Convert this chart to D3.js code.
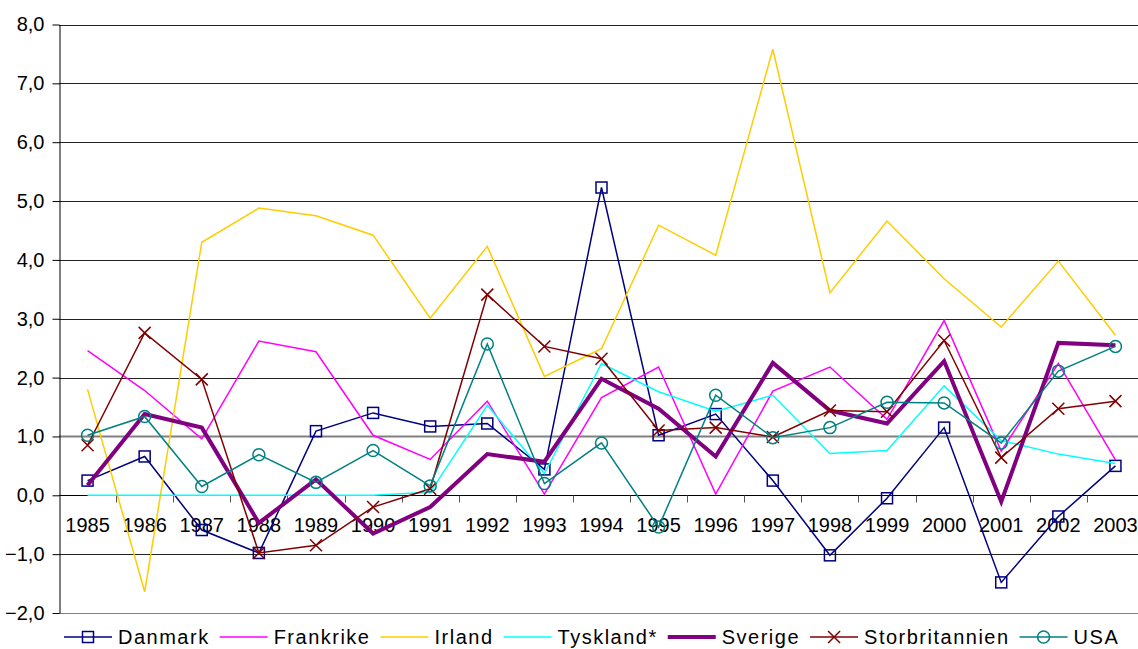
<!DOCTYPE html>
<html>
<head>
<meta charset="utf-8">
<script src="https://cdn.jsdelivr.net/npm/d3@7"></script>
<style>
  body { margin: 0; background: #fff; }
  text { font-family: "Liberation Sans", Arial, sans-serif; fill: #000; }
</style>
</head>
<body>
<script>
// Data
var years = [1985, 1986, 1987, 1988, 1989, 1990, 1991, 1992, 1993, 1994,
             1995, 1996, 1997, 1998, 1999, 2000, 2001, 2002, 2003];
var yTicks = [-2, -1, 0, 1, 2, 3, 4, 5, 6, 7, 8];

var danmark = [0.25, 0.66, -0.59, -0.98, 1.09, 1.40, 1.17, 1.22, 0.44, 5.23,
               1.02, 1.38, 0.25, -1.02, -0.05, 1.15, -1.48, -0.36, 0.50];
var frankrike = [2.46, 1.78, 0.96, 2.62, 2.44, 1.02, 0.61, 1.60, 0.02, 1.66,
                 2.18, 0.02, 1.77, 2.18, 1.29, 2.97, 0.75, 2.24, 0.60];
var irland = [1.80, -1.64, 4.30, 4.88, 4.75, 4.42, 3.01, 4.23, 2.02, 2.49,
              4.59, 4.08, 7.58, 3.44, 4.66, 3.68, 2.86, 3.98, 2.72];
var tyskland = [0, 0, 0, 0, 0, 0, 0.05, 1.53, 0.37, 2.24,
                1.76, 1.43, 1.70, 0.71, 0.76, 1.86, 0.93, 0.70, 0.54];
var sverige = [0.17, 1.38, 1.15, -0.47, 0.27, -0.65, -0.20, 0.70, 0.57, 1.98,
               1.47, 0.66, 2.25, 1.44, 1.22, 2.28, -0.11, 2.59, 2.55];
var storbritannien = [0.85, 2.76, 1.97, -0.98, -0.85, -0.20, 0.11, 3.41, 2.53, 2.32,
                      1.10, 1.15, 0.99, 1.44, 1.42, 2.63, 0.64, 1.47, 1.60];
var usa = [1.02, 1.34, 0.15, 0.69, 0.22, 0.76, 0.16, 2.57, 0.20, 0.89,
           -0.54, 1.70, 0.98, 1.15, 1.58, 1.57, 0.89, 2.11, 2.53];

var series = [
  { name: "Danmark", values: danmark, color: "#000080", width: 1.5, marker: "square" },
  { name: "Frankrike", values: frankrike, color: "#ff00ff", width: 1.5, marker: null },
  { name: "Irland", values: irland, color: "#ffcc00", width: 1.5, marker: null },
  { name: "Tyskland*", values: tyskland, color: "#00ffff", width: 1.5, marker: null },
  { name: "Sverige", values: sverige, color: "#800080", width: 4, marker: null },
  { name: "Storbritannien", values: storbritannien, color: "#800000", width: 1.5, marker: "x" },
  { name: "USA", values: usa, color: "#008080", width: 1.5, marker: "circle" }
];

var svgWidth = 1138;
var svgHeight = 649;

var svg = d3.select("body")
  .append("svg")
  .attr("width", svgWidth)
  .attr("height", svgHeight);

// scales
var x = d3.scaleBand()
  .domain(years)
  .range([59, 1144]);

var y = d3.scaleLinear()
  .domain([-2, 8])
  .range([613, 24.5]);

var locale = d3.formatLocale({ decimal: ",", thousands: ".", grouping: [3], currency: ["", " kr"] });
var fmt = locale.format(".1f");

// gridlines
svg.append("g")
  .selectAll("line")
  .data(yTicks.filter(d => d !== 0))
  .enter()
  .append("line")
  .attr("x1", x.range()[0])
  .attr("x2", x.range()[1])
  .attr("y1", d => Math.round(y(d)) + 0.5)
  .attr("y2", d => Math.round(y(d)) + 0.5)
  .attr("stroke", d => (d === 1 || d === -2) ? "#808080" : "#222")
  .attr("stroke-width", d => d === 1 ? 2 : 1);

// y axis
var leftAxis = d3.axisLeft(y)
  .tickValues(yTicks)
  .tickSize(7)
  .tickSizeOuter(0)
  .tickPadding(8)
  .tickFormat(fmt);

var yAxisG = svg.append("g")
  .attr("transform", "translate(59.5, 0)")
  .call(leftAxis);
yAxisG.selectAll("text").attr("font-size", 20).style("font-family", "'Liberation Sans', Arial, sans-serif");
yAxisG.selectAll("line, path").attr("stroke", "#000");

// x axis along zero
var y0 = Math.round(y(0)) + 0.5;
svg.append("line")
  .attr("x1", x.range()[0])
  .attr("x2", x.range()[1])
  .attr("y1", y0)
  .attr("y2", y0)
  .attr("stroke", "#000");

svg.append("g")
  .selectAll("line")
  .data(years.slice(1))
  .enter()
  .append("line")
  .attr("x1", d => Math.round(x(d)) + 0.5)
  .attr("x2", d => Math.round(x(d)) + 0.5)
  .attr("y1", y0)
  .attr("y2", y0 + 7)
  .attr("stroke", "#555");

svg.append("g")
  .selectAll("text")
  .data(years)
  .enter()
  .append("text")
  .attr("x", d => x(d) + x.bandwidth() / 2)
  .attr("y", y(0) + 37)
  .attr("text-anchor", "middle")
  .attr("font-size", 20)
  .text(d => d);

// lines
var line = d3.line()
  .x((d, i) => x(years[i]) + x.bandwidth() / 2)
  .y(d => y(d));

function drawMarker(g, type, color) {
  if (type === "square") {
    g.append("rect")
      .attr("x", -5.5).attr("y", -5.5)
      .attr("width", 11).attr("height", 11)
      .attr("fill", "none")
      .attr("stroke", color)
      .attr("stroke-width", 1.5);
  } else if (type === "circle") {
    g.append("circle")
      .attr("r", 6)
      .attr("fill", "none")
      .attr("stroke", color)
      .attr("stroke-width", 1.5);
  } else if (type === "x") {
    g.append("path")
      .attr("d", "M-6,-6L6,6M-6,6L6,-6")
      .attr("fill", "none")
      .attr("stroke", color)
      .attr("stroke-width", 1.5);
  }
}

series.forEach(function(s) {
  svg.append("path")
    .attr("d", line(s.values))
    .attr("fill", "none")
    .attr("stroke", s.color)
    .attr("stroke-width", s.width)
    .attr("stroke-linejoin", "miter");

  if (s.marker) {
    s.values.forEach(function(v, i) {
      var g = svg.append("g")
        .attr("transform", `translate(${x(years[i]) + x.bandwidth() / 2}, ${y(v)})`);
      drawMarker(g, s.marker, s.color);
    });
  }
});

// legend
var legendY = 637;
var lx = 64;
series.forEach(function(s) {
  var g = svg.append("g").attr("transform", `translate(${lx}, ${legendY})`);
  g.append("line")
    .attr("x1", 0).attr("x2", 48)
    .attr("stroke", s.color)
    .attr("stroke-width", s.width);
  if (s.marker) {
    drawMarker(g.append("g").attr("transform", "translate(24,0)"), s.marker, s.color);
  }
  var t = g.append("text")
    .attr("x", 54)
    .attr("dy", "0.35em")
    .attr("font-size", 20)
    .attr("letter-spacing", "1.5px")
    .text(s.name);
  lx += 54 + t.node().getBBox().width + 10;
});
</script>
</body>
</html>
